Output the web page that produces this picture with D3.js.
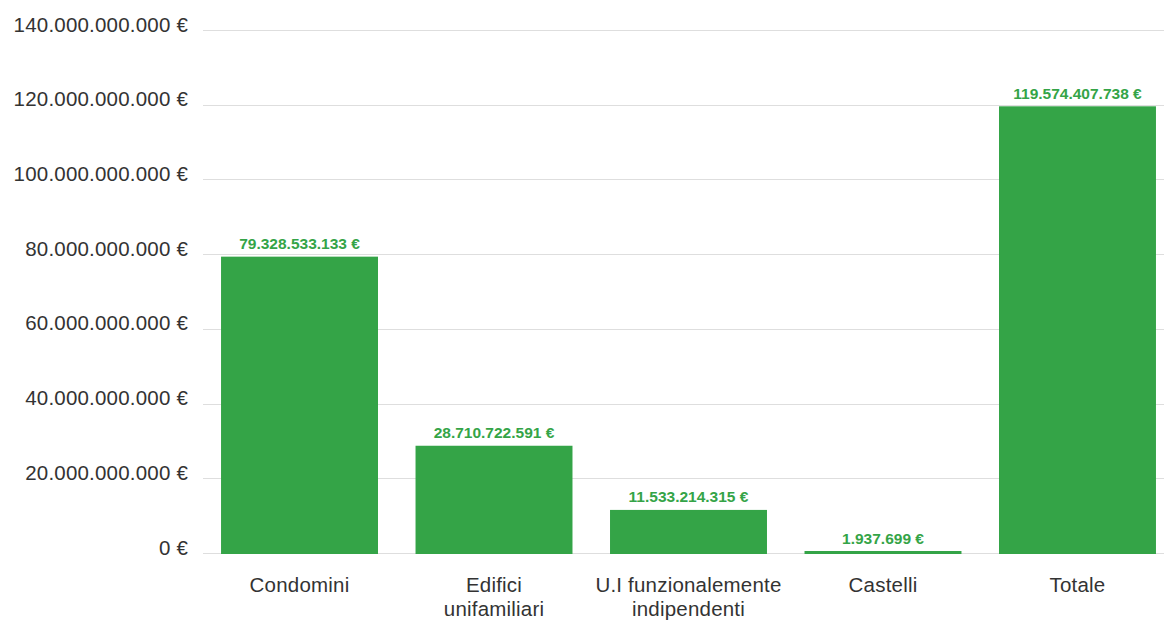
<!DOCTYPE html>
<html>
<head>
<meta charset="utf-8">
<script src="https://cdn.jsdelivr.net/npm/d3@7"></script>
<style>
  body { margin: 0; background: #fff; }
  svg { display: block; font-family: "Liberation Sans", Arial, sans-serif; }
</style>
</head>
<body>
<div id="chart"></div>
<script>
// Chart data
const categories = ["Condomini", "Edifici unifamiliari", "U.I funzionalemente indipendenti", "Castelli", "Totale"];
const categoryLines = [["Condomini"], ["Edifici", "unifamiliari"], ["U.I funzionalemente", "indipendenti"], ["Castelli"], ["Totale"]];
const values = [79328533133, 28710722591, 11533214315, 1937699, 119574407738];
const yTicks = [0, 20000000000, 40000000000, 60000000000, 80000000000, 100000000000, 120000000000, 140000000000];

const W = 1164, H = 620;
const green = "#34a447";

// Italian number format: dot thousands separator
const fmt = v => d3.format(",")(v).replace(/,/g, ".") + " €";

const svg = d3.select("#chart").append("svg")
    .attr("width", W)
    .attr("height", H);

const y = d3.scaleLinear()
    .domain([0, 140000000000])
    .range([553, 30]);

const x = d3.scaleBand()
    .domain(categories)
    .range([183.5, 1193.5])
    .padding(0.193);

// Gridlines
svg.append("g")
    .selectAll("line")
    .data(yTicks)
    .enter()
    .append("line")
    .attr("x1", 203)
    .attr("x2", W)
    .attr("y1", d => Math.round(y(d)) + 0.5)
    .attr("y2", d => Math.round(y(d)) + 0.5)
    .attr("stroke", "#dedede")
    .attr("stroke-width", 1);

// Y tick labels
svg.append("g")
    .selectAll("text")
    .data(yTicks)
    .enter()
    .append("text")
    .attr("x", 188)
    .attr("y", d => y(d) + 1.5)
    .attr("text-anchor", "end")
    .attr("font-size", 20.5)
    .attr("letter-spacing", 0.2)
    .attr("fill", "#333")
    .text(d => fmt(d));

// Bars (min height so the tiny value stays visible)
svg.append("g")
    .selectAll("rect")
    .data(values)
    .enter()
    .append("rect")
    .attr("x", (d, i) => x(categories[i]))
    .attr("width", x.bandwidth())
    .attr("y", d => Math.min(y(d), y(0) - 2))
    .attr("height", d => Math.max(y(0) - y(d), 2) + 1)
    .attr("fill", green);

// Value labels
svg.append("g")
    .selectAll("text")
    .data(values)
    .enter()
    .append("text")
    .attr("x", (d, i) => x(categories[i]) + x.bandwidth() / 2)
    .attr("y", d => Math.min(y(d), y(0) - 2) - 7.5)
    .attr("text-anchor", "middle")
    .attr("font-size", 15.5)
    .attr("font-weight", "bold")
    .attr("fill", green)
    .text(d => fmt(d));

// Category labels
const cat = svg.append("g")
    .selectAll("text")
    .data(categoryLines)
    .enter()
    .append("text")
    .attr("text-anchor", "middle")
    .attr("font-size", 20.5)
    .attr("letter-spacing", 0.2)
    .attr("fill", "#333");

cat.selectAll("tspan")
    .data((d, i) => d.map(t => ({ t, i })))
    .enter()
    .append("tspan")
    .attr("x", d => x(categories[d.i]) + x.bandwidth() / 2)
    .attr("y", (d, j) => 592 + j * 23.5)
    .text(d => d.t);
</script>
</body>
</html>
